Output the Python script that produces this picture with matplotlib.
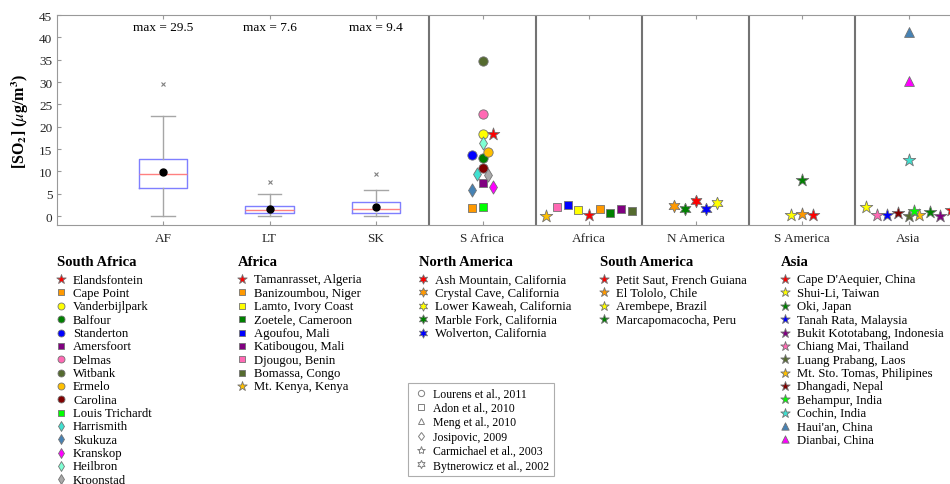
import matplotlib.pyplot as plt
from matplotlib.lines import Line2D

plt.rcParams['font.family'] = ['Liberation Serif', 'DejaVu Serif']
plt.rcParams['mathtext.fontset'] = 'stix'

# box plot summaries, ug/m3
box_labels = ['AF', 'LT', 'SK']
box_q1 = [6.3, 0.6, 0.75]
box_med = [9.5, 1.35, 1.6]
box_q3 = [12.8, 2.3, 3.1]
box_lo = [0.0, 0.0, 0.05]
box_hi = [22.5, 5.0, 5.9]
box_mean = [9.8, 1.65, 2.0]
box_max = [29.5, 7.6, 9.4]

group_labels = ['S Africa', 'Africa', 'N America', 'S America', 'Asia']
group_titles = ['South Africa', 'Africa', 'North America', 'South America', 'Asia']

HEX = (6, 1, 0)

sa_sites = ['Elandsfontein', 'Cape Point', 'Vanderbijlpark', 'Balfour', 'Standerton',
            'Amersfoort', 'Delmas', 'Witbank', 'Ermelo', 'Carolina', 'Louis Trichardt',
            'Harrismith', 'Skukuza', 'Kranskop', 'Heilbron', 'Kroonstad']
sa_values = [18.3, 1.8, 18.3, 13.1, 13.7, 7.4, 22.8, 34.8, 14.4, 10.7, 2.1,
             9.5, 5.9, 6.4, 16.3, 9.1]
sa_dx = [0.1, -0.1, 0, 0, -0.1, 0, 0, 0, 0.05, 0, 0, -0.05, -0.1, 0.1, 0, 0.05]
sa_colors = ['#ff0000', '#ff9900', '#ffff00', '#008000', '#0000ff', '#800080',
             '#ff69b4', '#556b2f', '#ffc000', '#800000', '#00ff00', '#40e0d0',
             '#4682b4', '#ff00ff', '#7fffd4', '#a9a9a9']
sa_markers = ['*', 's', 'o', 'o', 'o', 's', 'o', 'o', 'o', 'o', 's',
              'd', 'd', 'd', 'd', 'd']

af_sites = ['Tamanrasset, Algeria', 'Banizoumbou, Niger', 'Lamto, Ivory Coast',
            'Zoetele, Cameroon', 'Agoufou, Mali', 'Katibougou, Mali',
            'Djougou, Benin', 'Bomassa, Congo', 'Mt. Kenya, Kenya']
af_values = [0.15, 1.5, 1.3, 0.75, 2.5, 1.5, 2.0, 1.05, 0.1]
af_dx = [0, 0.1, -0.1, 0.2, -0.2, 0.3, -0.3, 0.4, -0.4]
af_colors = ['#ff0000', '#ff9900', '#ffff00', '#008000', '#0000ff', '#800080',
             '#ff69b4', '#556b2f', '#ffc000']
af_markers = ['*', 's', 's', 's', 's', 's', 's', 's', '*']

na_sites = ['Ash Mountain, California', 'Crystal Cave, California',
            'Lower Kaweah, California', 'Marble Fork, California',
            'Wolverton, California']
na_values = [3.3, 2.3, 2.9, 1.5, 1.5]
na_dx = [0, -0.2, 0.2, -0.1, 0.1]
na_colors = ['#ff0000', '#ff9900', '#ffff00', '#008000', '#0000ff']
na_markers = [HEX] * 5

sm_sites = ['Petit Saut, French Guiana', 'El Tololo, Chile', 'Arembepe, Brazil',
            'Marcapomacocha, Peru']
sm_values = [0.3, 0.5, 0.15, 8.0]
sm_dx = [0.1, 0, -0.1, 0]
sm_colors = ['#ff0000', '#ff9900', '#ffff00', '#008000']
sm_markers = ['*'] * 4

as_sites = ["Cape D'Aequier, China", 'Shui-Li, Taiwan', 'Oki, Japan',
            'Tanah Rata, Malaysia', 'Bukit Kototabang, Indonesia',
            'Chiang Mai, Thailand', 'Luang Prabang, Laos',
            'Mt. Sto. Tomas, Philipines', 'Dhangadi, Nepal', 'Behampur, India',
            'Cochin, India', "Haui'an, China", 'Dianbai, China']
as_values = [1.4, 2.0, 0.9, 0.15, 0.0, 0.15, 0.0, 0.2, 0.6, 1.1, 12.5, 41.1, 30.3]
as_dx = [0.4, -0.4, 0.2, -0.2, 0.3, -0.3, 0, 0.1, -0.1, 0.05, 0, 0, 0]
as_colors = ['#ff0000', '#ffff00', '#008000', '#0000ff', '#800080', '#ff69b4',
             '#556b2f', '#ffc000', '#800000', '#00ff00', '#40e0d0', '#4682b4',
             '#ff00ff']
as_markers = ['*'] * 11 + ['^', '^']

groups = [
    (sa_sites, sa_values, sa_dx, sa_colors, sa_markers),
    (af_sites, af_values, af_dx, af_colors, af_markers),
    (na_sites, na_values, na_dx, na_colors, na_markers),
    (sm_sites, sm_values, sm_dx, sm_colors, sm_markers),
    (as_sites, as_values, as_dx, as_colors, as_markers),
]

ref_labels = ['Lourens et al., 2011', 'Adon et al., 2010', 'Meng et al., 2010',
              'Josipovic, 2009', 'Carmichael et al., 2003', 'Bytnerowicz et al., 2002']
ref_markers = ['o', 's', '^', 'd', '*', HEX]

marker_size = {'o': 45, 's': 30, 'd': 45, '*': 90, '^': 50, HEX: 80}

W, H = 950, 485
fig = plt.figure(figsize=(9.5, 4.85), dpi=100)
ax = fig.add_axes([56.5 / W, 1 - 226 / H, 958.5 / W, 210 / H])

# box plots
stats = []
for i in range(len(box_labels)):
    stats.append(dict(med=box_med[i], q1=box_q1[i], q3=box_q3[i],
                      whislo=box_lo[i], whishi=box_hi[i], mean=box_mean[i],
                      fliers=[box_max[i]], label=box_labels[i]))
box_pos = list(range(1, len(box_labels) + 1))
ax.bxp(stats, positions=box_pos, widths=0.46, capwidths=0.22, showmeans=True,
       manage_ticks=False,
       boxprops=dict(color='#7f7fff', lw=1),
       medianprops=dict(color='#ff8080', lw=1),
       whiskerprops=dict(color='0.65', lw=1),
       capprops=dict(color='0.65', lw=1),
       flierprops=dict(marker='x', mec='0.5', ms=3, mew=0.8),
       meanprops=dict(marker='o', mfc='k', mec='k', ms=5))
for p, m in zip(box_pos, box_max):
    ax.text(p, 42.3, f'max = {m}', ha='center', va='center', fontsize=9.5)

# site scatter
handles = []
for g, (sites, vals, dx, cols, mks) in enumerate(groups):
    xc = len(box_labels) + 1 + g
    hs = []
    for s, v, d, c, m in zip(sites, vals, dx, cols, mks):
        h = ax.scatter(xc + d, v, marker=m, s=marker_size[m], c=c,
                       edgecolors='0.45', linewidths=0.6, zorder=3, label=s)
        hs.append(h)
    handles.append(hs)

for k in range(len(group_labels)):
    ax.axvline(len(box_labels) + 0.5 + k, color='0.45', lw=1.5, zorder=1)

ax.set_xlim(0, len(box_labels) + len(group_labels) + 1)
ax.set_ylim(-2, 45)
ax.set_yticks(range(0, 46, 5))
ax.set_xticks(range(1, len(box_labels) + len(group_labels) + 1))
ax.set_xticklabels(box_labels + group_labels)
ax.tick_params(direction='in', length=3, color='0.6', labelsize=9.5, top=True,
               labelcolor='0.15')
ax.tick_params(axis='x', pad=5)
ax.tick_params(axis='y', pad=3)
for sp in ax.spines.values():
    sp.set_color('0.6')
ax.set_ylabel(r'[SO$_\mathbf{2}$] ($\mu$g/m$^\mathbf{3}$)', fontsize=11.5,
              fontweight='bold')
ax.yaxis.set_label_coords(-0.027, 0.5)

# region legends
x0s = [57, 238, 419, 600, 781]
for x0, title, hs in zip(x0s, group_titles, handles):
    fig.text(x0 / W, 1 - 263 / H, title, fontweight='bold', fontsize=10.5,
             va='center', ha='left')
    fig.legend(hs, [h.get_label() for h in hs], loc='upper left',
               bbox_to_anchor=(x0 / W, 1 - 274.5 / H), frameon=False,
               fontsize=9.2, handlelength=0.63, handletextpad=0.63,
               labelspacing=0.105, borderpad=0, borderaxespad=0,
               markerscale=0.75, scatterpoints=1)

ref_handles = [Line2D([], [], marker=m, ls='none', mfc='none', mec='0.5',
                      ms=6 if m in ('*', HEX) else 4.5, mew=0.7)
               for m in ref_markers]
leg = fig.legend(ref_handles, ref_labels, loc='upper left',
                 bbox_to_anchor=(408 / W, 1 - 384 / H), frameon=True,
                 fancybox=False, edgecolor='0.6', fontsize=8.5,
                 handlelength=1.4, handletextpad=0.35, labelspacing=0.2,
                 borderpad=0.4, borderaxespad=0)
leg.get_frame().set_linewidth(0.8)

plt.savefig('out.png', dpi=100)
